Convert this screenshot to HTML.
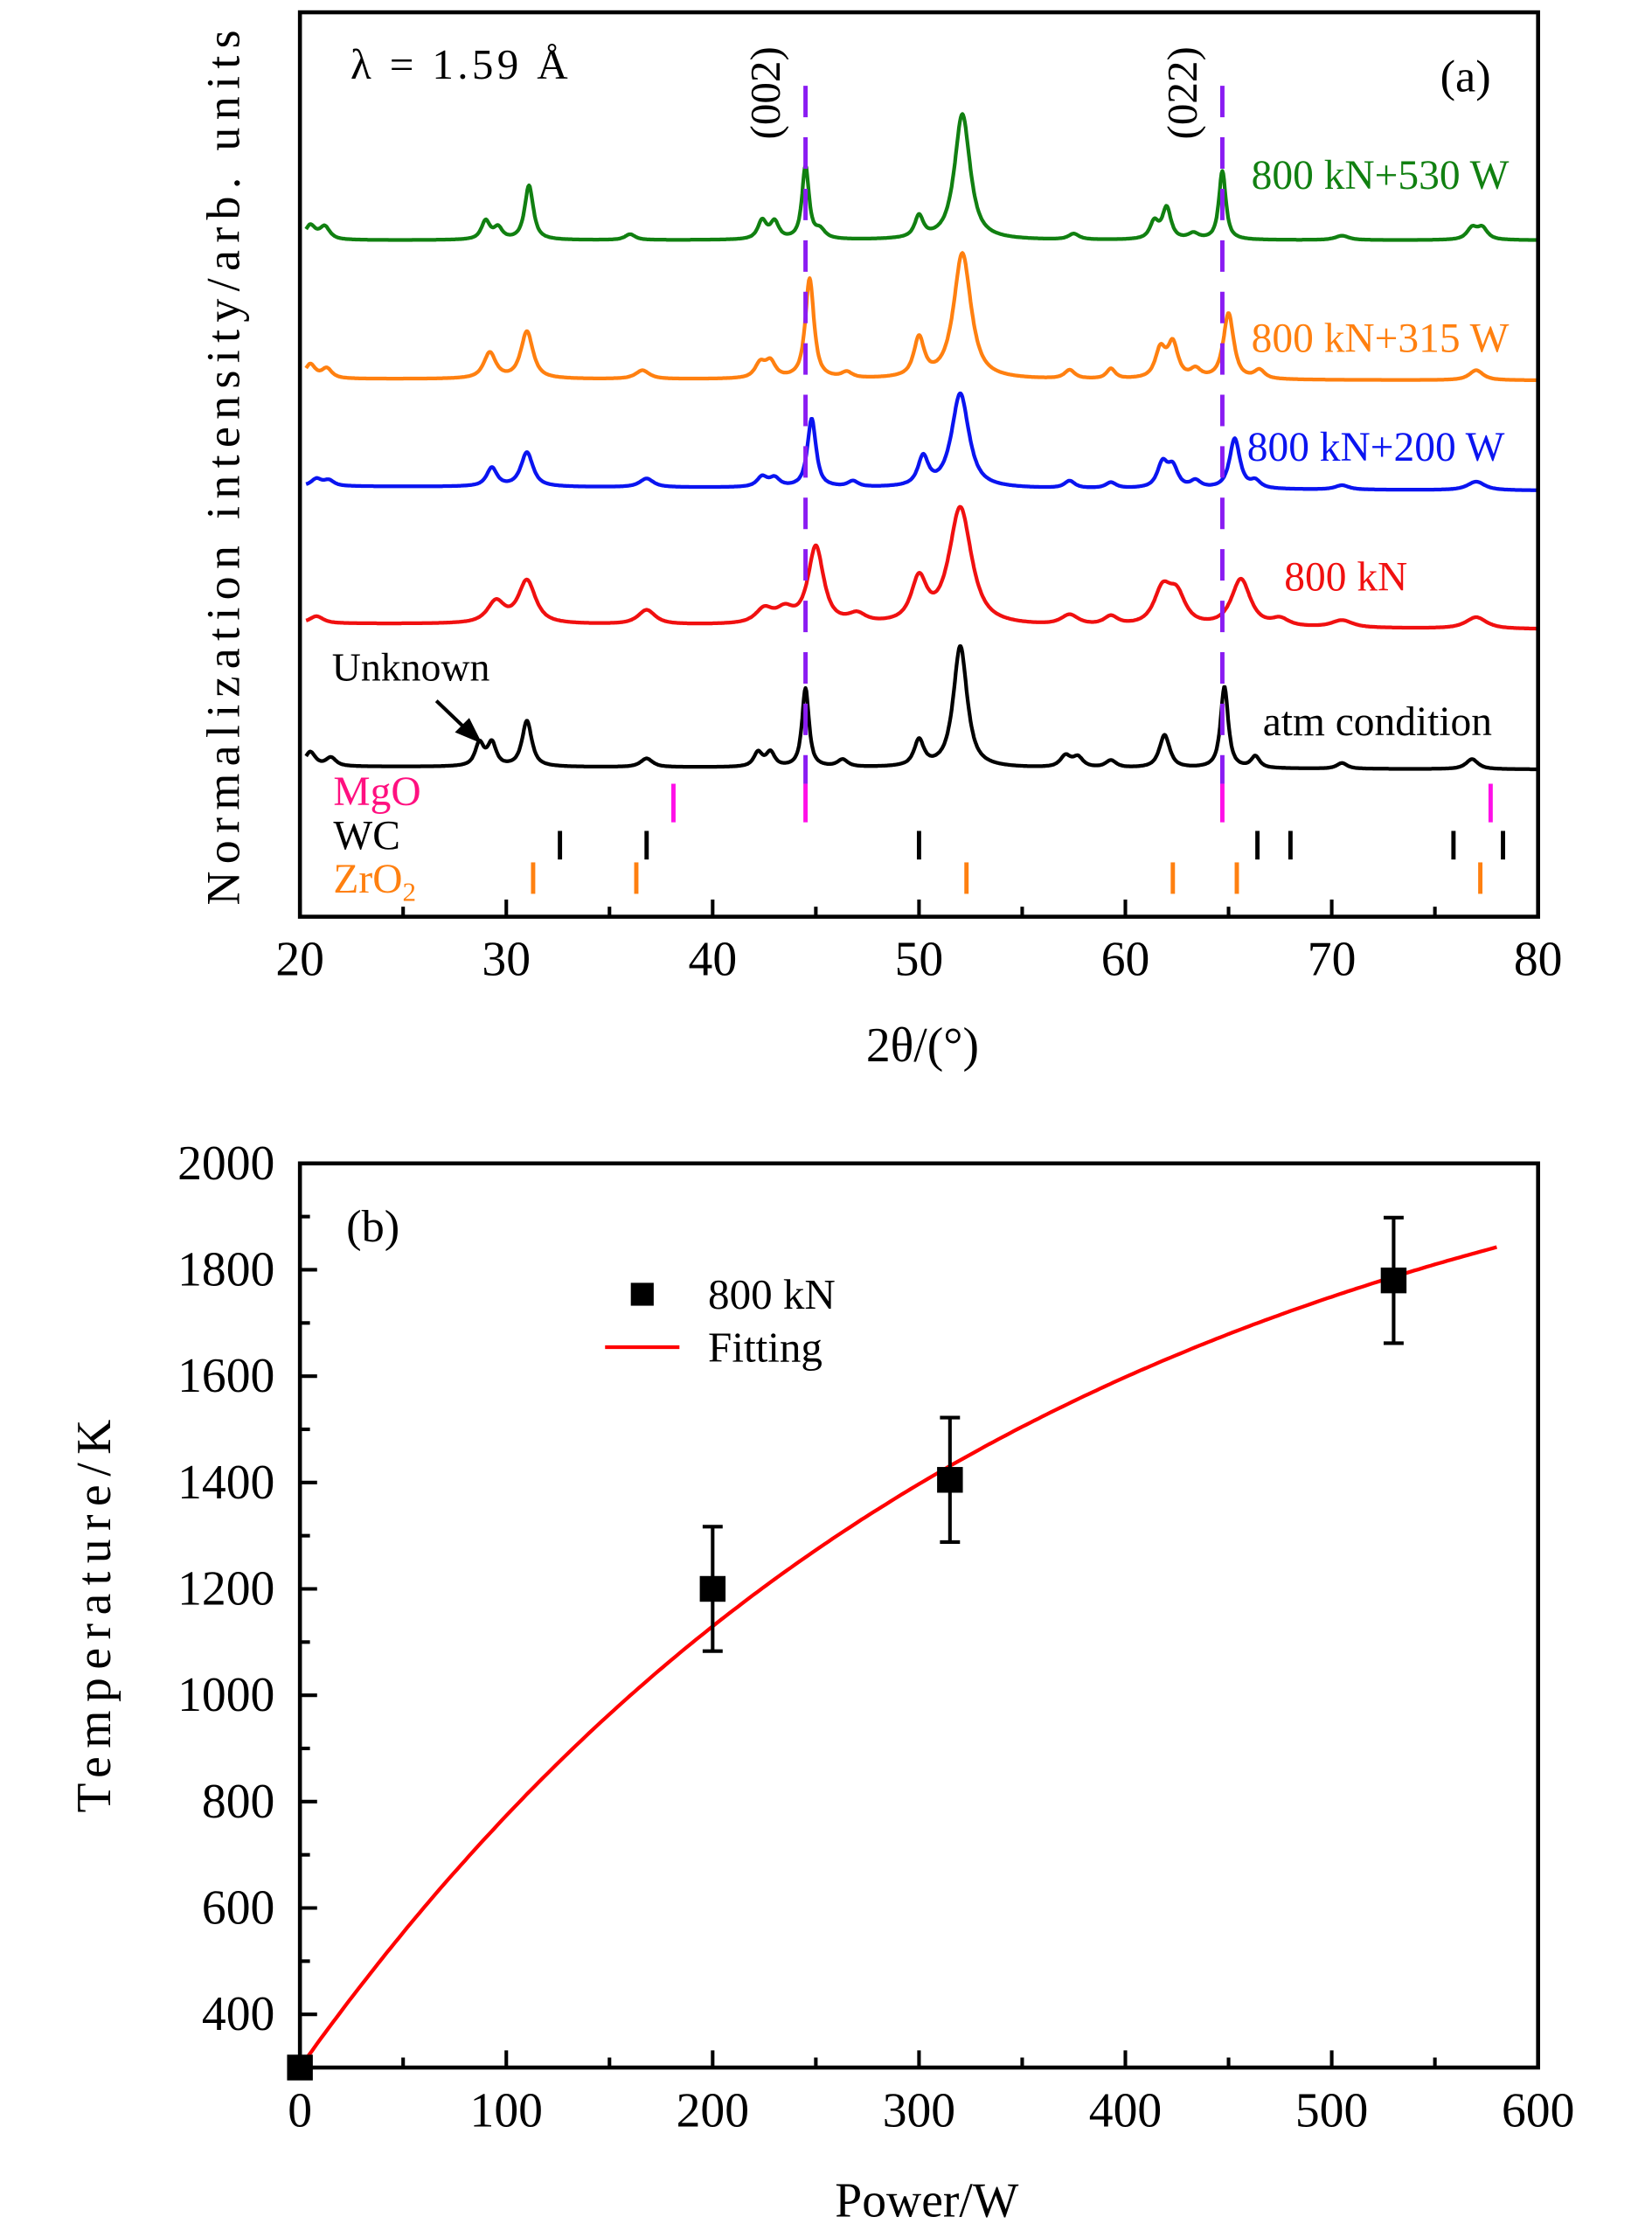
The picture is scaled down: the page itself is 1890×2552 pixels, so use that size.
<!DOCTYPE html>
<html><head><meta charset="utf-8"><style>
html,body{margin:0;padding:0;background:#fff;}
svg{display:block;font-family:"Liberation Serif",serif;}
</style></head><body>
<svg id="fig" width="1890" height="2552" viewBox="0 0 1155 1560" xmlns="http://www.w3.org/2000/svg">
<g id="pa"></g>
<g id="pb"></g>
</svg>
<script>
// ---------- Panel (a) data ----------
const seriesNames = ["800 kN+530 W","800 kN+315 W","800 kN+200 W","800 kN","atm condition"];
const seriesColors = ["#118011","#ff8010","#0a14f0","#f01010","#000000"];
const seriesBase = [477, 380, 305, 209, 109];
const seriesEndBase = [477, 379, 302, 205, 107];
const greenPos = [20.5,21.2,29.0,29.6,31.1,36.0,42.4,43.0,44.5,45.2,50.0,52.1,57.5,61.4,62.0,63.3,64.7,70.5,76.8,77.3];
const greenH   = [10,9,13,8,38,4,13,12,51,6,15,88,4,12,22,4,48,3,8,8];
const greenW   = [0.3,0.3,0.25,0.25,0.25,0.3,0.25,0.25,0.2,0.3,0.25,0.45,0.3,0.25,0.25,0.3,0.2,0.4,0.3,0.3];
const orangePos = [20.5,21.3,29.2,31.0,36.6,42.3,42.8,44.7,46.5,50.0,52.1,57.3,59.3,61.7,62.3,63.4,65.0,66.5,77.0];
const orangeH   = [10,7,18,33,6,10,11,70,4,27,88,6,7,20,24,6,46,6,7];
const orangeW   = [0.3,0.3,0.35,0.35,0.4,0.3,0.3,0.25,0.3,0.3,0.5,0.3,0.25,0.3,0.3,0.3,0.3,0.3,0.4];
const bluePos = [20.8,21.4,29.3,31.0,36.8,42.4,43.0,44.8,46.8,50.2,52.0,57.3,59.3,61.8,62.3,63.4,65.3,66.3,70.5,77.0];
const blueH   = [5,4,13,24,6,7,6,48,4,20,66,5,4,17,14,5,35,5,3,6];
const blueW   = [0.3,0.3,0.3,0.35,0.4,0.3,0.3,0.25,0.3,0.3,0.5,0.3,0.3,0.3,0.3,0.3,0.3,0.3,0.4,0.5];
const redPos = [20.8,29.5,31.0,36.8,42.5,43.5,45.0,47.0,50.0,52.0,57.3,59.3,61.8,62.5,65.6,67.5,70.5,77.0];
const redH   = [5,15,30,10,10,9,54,6,30,82,7,6,24,20,33,5,5,8];
const redW   = [0.4,0.5,0.5,0.5,0.5,0.5,0.45,0.5,0.45,0.65,0.5,0.4,0.5,0.5,0.55,0.5,0.6,0.6];
const blackPos = [20.5,21.5,28.7,29.3,31.0,36.8,42.2,42.8,44.5,46.3,50.0,52.0,57.1,57.7,59.3,61.9,64.8,66.3,70.5,76.8];
const blackH   = [10,6,16,16,32,6,10,10,55,5,18,85,8,7,5,23,57,8,4,7];
const blackW   = [0.3,0.3,0.25,0.25,0.28,0.35,0.25,0.25,0.2,0.3,0.28,0.4,0.3,0.3,0.3,0.3,0.22,0.25,0.3,0.35];
const seriesPeaks = [[greenPos,greenH,greenW],[orangePos,orangeH,orangeW],[bluePos,blueH,blueW],[redPos,redH,redW],[blackPos,blackH,blackW]];
const labelPositions = [[875,132],[875,246],[872,322],[898,413],[883,514]];
const mgoLines = [38.1,44.5,64.7,77.7];
const wcLines = [32.6,36.8,50.0,66.4,68.0,75.9,78.3];
const zro2Lines = [31.3,36.3,52.3,62.3,65.4,77.2];
const planeLines = [44.5,64.7];
const planeLabels = ["(002)","(022)"];
const xTicksA = [20,30,40,50,60,70,80];

// ---------- Panel (b) data ----------
const powerVals = [0,200,315,530];
const tempVals = [300,1200,1405,1780];
const tempErr = [0,117,117,118];
const fitParams = [300,1906,350,580]; // T0, A, tau, Pmax
const xTicksB = [0,100,200,300,400,500,600];
const yTicksB = [400,600,800,1000,1200,1400,1600,1800,2000];

const NS="http://www.w3.org/2000/svg";
function mk(parent,tag,attrs,text){const e=document.createElementNS(NS,tag);for(const k in attrs)e.setAttribute(k,attrs[k]);if(text!==undefined)e.textContent=text;parent.appendChild(e);return e;}

// ---- Panel a axes ----
const A={l:209.6,r:1075.5,t:8.6,b:641};
const xa=v=>A.l+(v-20)/60*(A.r-A.l);
const ya=v=>645-v;
const pa=document.getElementById('pa');
let e;
for(let i=0;i<seriesNames.length;i++){
  const [P,H,W]=seriesPeaks[i];let d="";
  for(let x=20.3;x<=80;x+=0.04){
    let y=seriesBase[i]+(seriesEndBase[i]-seriesBase[i])*(x-20)/60;
    for(let j=0;j<P.length;j++){const u=(x-P[j])/W[j];y+=H[j]/(1+u*u)*0.85+H[j]*Math.exp(-u*u*0.7)*0.15;}
    d+=(d?"L":"M")+xa(x).toFixed(1)+","+ya(y).toFixed(1);
  }
  e=mk(pa,'path',{d:d,fill:'none',stroke:seriesColors[i],'stroke-width':2.6,'stroke-linejoin':'round'});
  
  
  e=mk(pa,'text',{x:labelPositions[i][0],y:labelPositions[i][1],fill:seriesColors[i],'font-size':29},seriesNames[i]);
  
  
}
for(let i=0;i<planeLines.length;i++){
  e=mk(pa,'line',{x1:xa(planeLines[i]),x2:xa(planeLines[i]),y1:60,y2:548,stroke:'#8a1cf2','stroke-width':3,'stroke-dasharray':'22,14'});
  
  
  const tx=xa(planeLines[i])-28;
  e=mk(pa,'text',{x:0,y:0,'font-size':30,transform:`translate(${tx+10},65) rotate(-90)`,'text-anchor':'middle'},planeLabels[i]);
  
  
}
function refTicks(arr,col,y1,y2,nm){for(const v of arr){e=mk(pa,'line',{x1:xa(v),x2:xa(v),y1:y1,y2:y2,stroke:col,'stroke-width':3});
  
  }}
refTicks(mgoLines,'#ff10e8',548,575,'mgo');
refTicks(wcLines,'#000',581,601,'wc');
refTicks(zro2Lines,'#ff8010',603,625,'zro2');
e=mk(pa,'text',{x:233,y:563,fill:'#ff1080','font-size':29},'MgO');


e=mk(pa,'text',{x:233,y:594,fill:'#000','font-size':29},'WC');


e=mk(pa,'text',{x:233,y:624,fill:'#ff8010','font-size':29},'ZrO');


const sub=mk(e,'tspan',{dy:6,'font-size':19},'2');
e=mk(pa,'text',{x:232,y:476,'font-size':28},'Unknown');


mk(pa,'line',{x1:305,y1:490,x2:328,y2:512,stroke:'#000','stroke-width':2.5});
e=mk(pa,'polygon',{points:'337,520 318,512 328,502',fill:'#000'});


e=mk(pa,'text',{x:245,y:55,'font-size':30,textLength:152,lengthAdjust:'spacing'},'λ = 1.59 Å');


e=mk(pa,'text',{x:1007,y:64,'font-size':32},'(a)');


e=mk(pa,'rect',{x:A.l,y:A.t,width:A.r-A.l,height:A.b-A.t,fill:'none',stroke:'#000','stroke-width':2.8});


for(let v=20;v<=80;v+=5){const maj=v%10===0;mk(pa,'line',{x1:xa(v),x2:xa(v),y1:A.b,y2:A.b-(maj?12:7),stroke:'#000','stroke-width':2.5});}
for(const v of xTicksA){e=mk(pa,'text',{x:xa(v),y:682,'font-size':34,'text-anchor':'middle'},String(v));
  
  }
e=mk(pa,'text',{x:645,y:742,'font-size':34,'text-anchor':'middle'},'2θ/(°)');


e=mk(pa,'text',{x:0,y:0,'font-size':33,'text-anchor':'middle',transform:'translate(167,327) rotate(-90)',textLength:612,lengthAdjust:'spacing'},'Normalization intensity/arb. units');



// ---- Panel b ----
const B={l:209.6,r:1075.5,t:813.5,b:1445.7};
const xb=v=>B.l+v/600*(B.r-B.l);
const yb=v=>B.b-(v-300)/1700*(B.b-B.t);
const pb=document.getElementById('pb');
let d="";
for(let p=0;p<=fitParams[3];p+=2){const T=fitParams[0]+fitParams[1]*(1-Math.exp(-p/fitParams[2]));d+=(d?"L":"M")+xb(p).toFixed(1)+","+yb(T).toFixed(1);}
e=mk(pb,'path',{d:d,fill:'none',stroke:'#f00','stroke-width':2.6});


for(let i=0;i<powerVals.length;i++){
  const cx=xb(powerVals[i]),cy=yb(tempVals[i]);
  if(tempErr[i]>0){
    const y1=yb(tempVals[i]+tempErr[i]),y2=yb(tempVals[i]-tempErr[i]);
    e=mk(pb,'path',{d:`M${cx},${y1}V${y2}M${cx-7},${y1}H${cx+7}M${cx-7},${y2}H${cx+7}`,stroke:'#000','stroke-width':2.5,fill:'none'});
    
    
  }
  e=mk(pb,'rect',{x:cx-9,y:cy-9,width:18,height:18,fill:'#000'});
  
  
}
e=mk(pb,'rect',{x:B.l,y:B.t,width:B.r-B.l,height:B.b-B.t,fill:'none',stroke:'#000','stroke-width':2.8});


for(let v=0;v<=600;v+=50){const maj=v%100===0;mk(pb,'line',{x1:xb(v),x2:xb(v),y1:B.b,y2:B.b-(maj?12:7),stroke:'#000','stroke-width':2.5});}
for(let v=400;v<=2000;v+=100){const maj=v%200===0;mk(pb,'line',{x1:B.l,x2:B.l+(maj?12:7),y1:yb(v),y2:yb(v),stroke:'#000','stroke-width':2.5});}
for(const v of xTicksB){e=mk(pb,'text',{x:xb(v),y:1487,'font-size':34,'text-anchor':'middle'},String(v));
  
  }
for(const v of yTicksB){e=mk(pb,'text',{x:192,y:yb(v)+11,'font-size':34,'text-anchor':'end'},String(v));
  
  }
e=mk(pb,'text',{x:648,y:1550,'font-size':34,'text-anchor':'middle'},'Power/W');


e=mk(pb,'text',{x:0,y:0,'font-size':34,'text-anchor':'middle',transform:'translate(77,1130) rotate(-90)',textLength:275,lengthAdjust:'spacing'},'Temperature/K');


e=mk(pb,'text',{x:242,y:868,'font-size':32},'(b)');


e=mk(pb,'rect',{x:441,y:897,width:16,height:16,fill:'#000'});


e=mk(pb,'text',{x:495,y:915,'font-size':30},'800 kN');


e=mk(pb,'line',{x1:423,x2:475,y1:942,y2:942,stroke:'#f00','stroke-width':2.6});


e=mk(pb,'text',{x:495,y:952,'font-size':30},'Fitting');


</script>
</body></html>
